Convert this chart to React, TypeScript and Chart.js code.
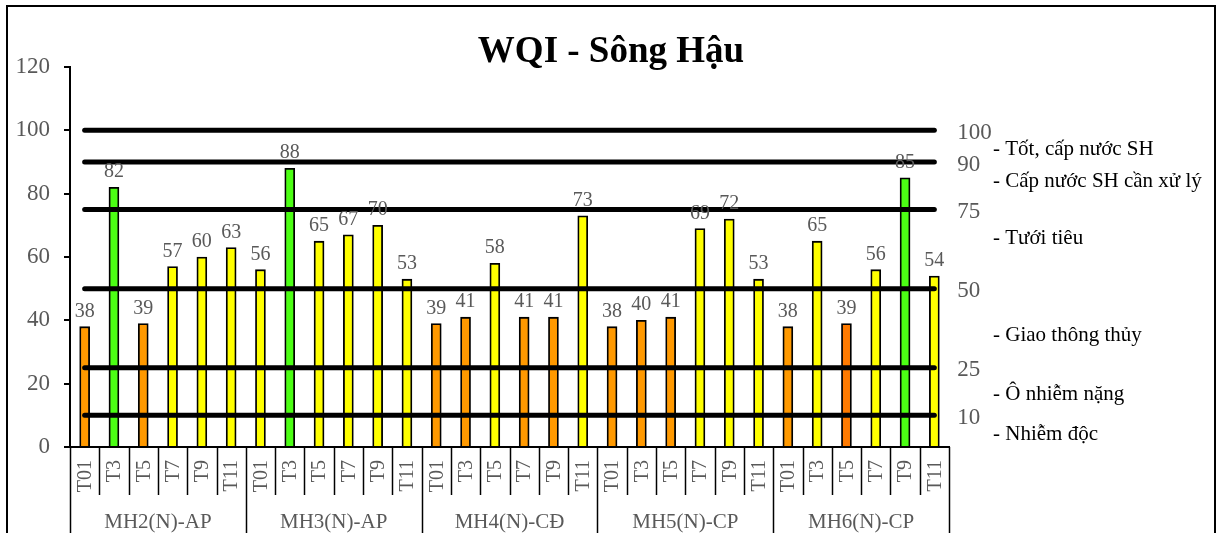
import React, { useEffect, useRef } from 'react';
import { Chart, registerables } from 'chart.js';

Chart.register(...registerables);

// ---------- data ----------
const stations = ['MH2(N)-AP', 'MH3(N)-AP', 'MH4(N)-CĐ', 'MH5(N)-CP', 'MH6(N)-CP'];
const months = ['T01', 'T3', 'T5', 'T7', 'T9', 'T11'];
const mh2 = [38, 82, 39, 57, 60, 63];
const mh3 = [56, 88, 65, 67, 70, 53];
const mh4 = [39, 41, 58, 41, 41, 73];
const mh5 = [38, 40, 41, 69, 72, 53];
const mh6 = [38, 65, 39, 56, 85, 54];
const thresholds = [100, 90, 75, 50, 25, 10];
const thresholdLabels = ['100', '90', '75', '50', '25', '10'];
const classLabels = [
  '- Tốt, cấp nước SH',
  '- Cấp nước SH cần xử lý',
  '- Tưới tiêu',
  '- Giao thông thủy',
  '- Ô nhiễm nặng',
  '- Nhiễm độc',
];
const titleText = 'WQI - Sông Hậu';

// ---------- styles ----------
const ORANGE = '#FF9900';
const DARK_ORANGE = '#FF7A00';
const GREEN = '#4CFF14';
const YELLOW = '#FFFF00';
const barColors = [
  ORANGE, GREEN, ORANGE, YELLOW, YELLOW, YELLOW,
  YELLOW, GREEN, YELLOW, YELLOW, YELLOW, YELLOW,
  ORANGE, ORANGE, YELLOW, ORANGE, ORANGE, YELLOW,
  ORANGE, ORANGE, ORANGE, YELLOW, YELLOW, YELLOW,
  ORANGE, YELLOW, DARK_ORANGE, YELLOW, GREEN, YELLOW,
];
// vertical anchors (in WQI units) for the class descriptions on the right
const classAnchors = [92.2, 82.1, 64.1, 33.5, 14.8, 2.2];

const FONT = "'Liberation Serif', 'Times New Roman', serif";
const GREY = '#595959';

const labels = stations.flatMap(() => months);
const values = [...mh2, ...mh3, ...mh4, ...mh5, ...mh6];
const lastIndex = labels.length - 1;

const decorPlugin = {
  id: 'decor',
  afterDraw(chart: any) {
    const { ctx, chartArea, scales } = chart;
    const x = scales.x;
    const y = scales.y;
    ctx.save();

    // outer frame
    ctx.strokeStyle = '#000';
    ctx.lineWidth = 2;
    ctx.strokeRect(7, 6, 1208, 600);

    // title
    ctx.fillStyle = '#000';
    ctx.font = `bold 37px ${FONT}`;
    ctx.textAlign = 'center';
    ctx.textBaseline = 'alphabetic';
    ctx.fillText(titleText, 611, 62);

    // bar value labels
    const meta = chart.getDatasetMeta(chart.data.datasets.length - 1);
    ctx.fillStyle = GREY;
    ctx.font = `20px ${FONT}`;
    meta.data.forEach((el: any, i: number) => {
      ctx.fillText(String(values[i]), el.x, el.y - 10);
    });

    // threshold labels at the right end of the lines
    ctx.textAlign = 'left';
    ctx.font = `23px ${FONT}`;
    thresholds.forEach((t, i) => {
      ctx.fillText(thresholdLabels[i], x.getPixelForValue(lastIndex) + 23, y.getPixelForValue(t) + 8.5);
    });

    // class descriptions
    ctx.fillStyle = '#000';
    ctx.font = `21px ${FONT}`;
    classLabels.forEach((c, i) => {
      ctx.fillText(c, 993, y.getPixelForValue(classAnchors[i]));
    });

    // multi-level category axis
    const base = chartArea.bottom;
    ctx.strokeStyle = '#000';
    ctx.lineWidth = 2;
    ctx.beginPath();
    ctx.moveTo(chartArea.left - 6, base);
    ctx.lineTo(chartArea.right + 1, base);
    ctx.stroke();

    ctx.lineWidth = 1.5;
    for (let k = 0; k <= labels.length; k++) {
      const bx = Math.round(x.getPixelForValue(k - 0.5)) + 0.5;
      const isGroup = k % months.length === 0;
      ctx.beginPath();
      ctx.moveTo(bx, base);
      ctx.lineTo(bx, isGroup ? 560 : 495);
      ctx.stroke();
    }

    ctx.fillStyle = GREY;
    ctx.font = `20px ${FONT}`;
    labels.forEach((lab, i) => {
      ctx.save();
      ctx.translate(x.getPixelForValue(i), base + 13);
      ctx.rotate(-Math.PI / 2);
      ctx.textAlign = 'right';
      ctx.textBaseline = 'middle';
      ctx.fillText(lab, 0, 1);
      ctx.restore();
    });

    ctx.font = `21px ${FONT}`;
    ctx.textAlign = 'center';
    ctx.textBaseline = 'alphabetic';
    stations.forEach((s, g) => {
      const cx = x.getPixelForValue(g * months.length + (months.length - 1) / 2);
      ctx.fillText(s, cx, 528);
    });

    ctx.restore();
  },
};

export default function App() {
  const canvasRef = useRef<HTMLCanvasElement | null>(null);

  useEffect(() => {
    if (!canvasRef.current) return;
    const lineSets = thresholds.map((t) => ({
      type: 'line' as const,
      label: String(t),
      parsing: false,
      data: [
        { x: 0, y: t },
        { x: lastIndex, y: t },
      ],
      borderColor: '#000',
      borderWidth: 5,
      borderCapStyle: 'round' as const,
      pointRadius: 0,
      fill: false,
      order: 0,
    }));
    const chart = new Chart(canvasRef.current, {
      type: 'bar',
      data: {
        labels,
        datasets: [
          ...lineSets,
          {
            type: 'bar' as const,
            label: 'WQI',
            data: values,
            backgroundColor: barColors,
            borderColor: '#000',
            borderWidth: 1.8,
            barThickness: 10,
            order: 1,
          },
        ] as any,
      },
      options: {
        animation: false,
        responsive: true,
        maintainAspectRatio: false,
        layout: { padding: { left: 0, right: 269, top: 67, bottom: 86 } },
        plugins: {
          legend: { display: false },
          tooltip: { enabled: false },
          title: { display: false },
        },
        scales: {
          x: { type: 'category', display: false, offset: true },
          y: {
            min: 0,
            max: 120,
            ticks: {
              stepSize: 20,
              color: GREY,
              padding: 14,
              font: { family: FONT, size: 23 },
            },
            grid: {
              drawOnChartArea: false,
              drawTicks: true,
              tickLength: 6,
              color: '#000',
              lineWidth: 2,
            },
            border: { color: '#000', width: 2 },
            afterFit: (s: any) => {
              s.width = 70;
            },
          },
        },
      } as any,
      plugins: [decorPlugin],
    });
    return () => chart.destroy();
  }, []);

  return (
    <div style={{ position: 'absolute', left: 0, top: 0, width: 1218, height: 533, background: '#fff' }}>
      <canvas ref={canvasRef} />
    </div>
  );
}
